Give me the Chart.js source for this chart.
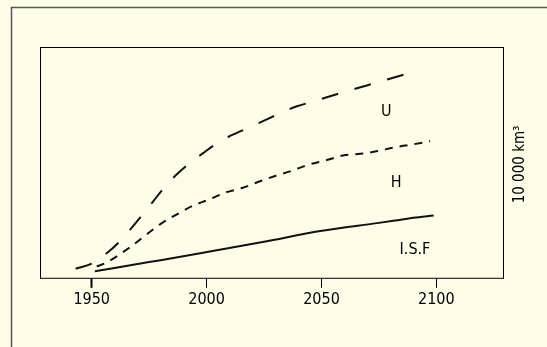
<!DOCTYPE html>
<html>
<head>
<meta charset="utf-8">
<script src="https://cdn.jsdelivr.net/npm/chart.js@4/dist/chart.umd.min.js"></script>
<style>
  html, body { margin: 0; padding: 0; background: #fffde8; }
  canvas { display: block; }
</style>
</head>
<body>
<canvas id="chart" width="547" height="347"></canvas>
<script>
// values, y in an arbitrary 0..10 unit
const yearTicks = [1950, 2000, 2050, 2100];
const seriesNames = ["U", "H", "I.S.F"];

const uYears = [1943.0, 1950.0, 1956.5, 1962.0, 1967.0, 1971.8, 1976.6, 1981.2, 1986.6, 1992.1, 1998.3, 2004.4,
  2011.4, 2018.2, 2025.0, 2032.0, 2039.3, 2046.5, 2054.1, 2061.1, 2069.0, 2076.0, 2083.5, 2090.8];
const uValues = [0.39, 0.61, 1.06, 1.56, 2.12, 2.70, 3.29, 3.87, 4.44, 4.93, 5.39, 5.82,
  6.20, 6.50, 6.81, 7.13, 7.43, 7.64, 7.88, 8.09, 8.31, 8.52, 8.73, 8.95];

const hYears = [1952.2, 1955.8, 1965.9, 1974.7, 1980.5, 1987.3, 1994.0, 2000.8, 2008.1, 2015.8, 2022.6,
  2029.8, 2037.1, 2044.3, 2051.6, 2059.3, 2066.9, 2074.4, 2082.1, 2089.8, 2097.3];
const hValues = [0.49, 0.63, 1.27, 1.94, 2.37, 2.76, 3.12, 3.38, 3.69, 3.90, 4.16,
  4.41, 4.64, 4.90, 5.08, 5.30, 5.37, 5.49, 5.66, 5.78, 5.92];

const isfYears = [1951.4, 1975.0, 1997.2, 2025.0, 2049.5, 2075.0, 2082.0, 2090.0, 2098.8];
const isfValues = [0.28, 0.68, 1.06, 1.56, 2.03, 2.38, 2.48, 2.60, 2.70];

// where the curve names sit (data space)
const labelYears = [2078.2, 2082.5, 2090.7];
const labelValues = [7.18, 4.12, 1.22];

const axisTitle = "10 000 km³";

const FONT = '"Liberation Sans Narrow", "DejaVu Sans Condensed", "Arial Narrow", sans-serif';

function toPoints(xs, ys) {
  return xs.map((x, i) => ({ x: x, y: ys[i] }));
}

const framePlugin = {
  id: "frame",
  beforeDraw(chart) {
    const ctx = chart.ctx;
    ctx.save();
    ctx.fillStyle = "#fffde8";
    ctx.fillRect(0, 0, chart.width, chart.height);
    ctx.strokeStyle = "#555";
    ctx.lineWidth = 1.5;
    ctx.beginPath();
    ctx.moveTo(11.5, chart.height);
    ctx.lineTo(11.5, 7.5);
    ctx.lineTo(chart.width, 7.5);
    ctx.stroke();
    ctx.restore();
  },
  afterDraw(chart) {
    const ctx = chart.ctx;
    const a = chart.chartArea;
    const xs = chart.scales.x;
    const ys = chart.scales.y;
    ctx.save();
    ctx.strokeStyle = "#000";
    ctx.lineWidth = 1;
    ctx.strokeRect(a.left + 0.5, a.top + 0.5, a.right - a.left, a.bottom - a.top);

    ctx.fillStyle = "#000";
    ctx.font = "16px " + FONT;
    ctx.textAlign = "center";
    ctx.textBaseline = "middle";
    seriesNames.forEach((name, i) => {
      ctx.fillText(name, xs.getPixelForValue(labelYears[i]), ys.getPixelForValue(labelValues[i]));
    });

    ctx.font = "15px " + FONT;
    ctx.translate(a.right + 17, (a.top + a.bottom) / 2 + 2);
    ctx.rotate(-Math.PI / 2);
    ctx.fillText(axisTitle, 0, 0);
    ctx.restore();
  },
};

new Chart(document.getElementById("chart"), {
  type: "line",
  data: {
    datasets: [
      {
        label: seriesNames[0],
        data: toPoints(uYears, uValues),
        borderColor: "#111",
        borderWidth: 2,
        borderDash: [17, 17],
        pointRadius: 0,
        cubicInterpolationMode: "monotone",
      },
      {
        label: seriesNames[1],
        data: toPoints(hYears, hValues),
        borderColor: "#111",
        borderWidth: 2,
        borderDash: [8, 7],
        pointRadius: 0,
        cubicInterpolationMode: "monotone",
      },
      {
        label: seriesNames[2],
        data: toPoints(isfYears, isfValues),
        borderColor: "#111",
        borderWidth: 2,
        pointRadius: 0,
        cubicInterpolationMode: "monotone",
      },
    ],
  },
  options: {
    responsive: false,
    animation: false,
    layout: { padding: { left: 40, right: 44, top: 47, bottom: 36 } },
    plugins: { legend: { display: false }, tooltip: { enabled: false } },
    scales: {
      x: {
        type: "linear",
        min: 1927.5,
        max: 2129,
        afterBuildTicks: (axis) => {
          axis.ticks = yearTicks.map((v) => ({ value: v }));
        },
        border: { display: false },
        grid: {
          drawOnChartArea: false,
          tickLength: 10,
          color: "#000",
          tickWidth: (c) => (c.index === 0 ? 2 : 1),
        },
        ticks: {
          padding: 2,
          color: "#000",
          font: { family: FONT, size: 16 },
          maxRotation: 0,
          callback: (v) => String(v),
        },
      },
      y: {
        display: false,
        min: 0,
        max: 10,
      },
    },
  },
  plugins: [framePlugin],
});
</script>
</body>
</html>
